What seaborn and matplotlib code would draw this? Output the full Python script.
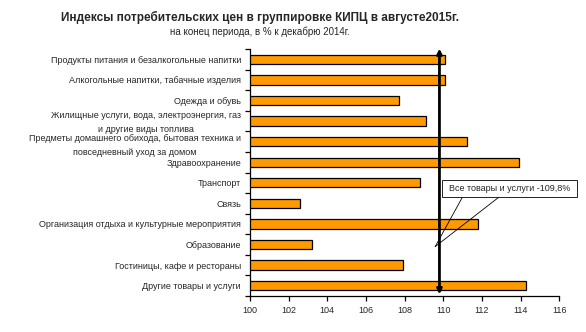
import matplotlib
matplotlib.use("Agg")
import matplotlib.pyplot as plt
from matplotlib.patches import Rectangle
from matplotlib.ticker import FixedLocator
from matplotlib.transforms import ScaledTranslation
import pandas as pd
import seaborn as sns

categories = [
    "Продукты питания и безалкогольные напитки",
    "Алкогольные напитки, табачные изделия",
    "Одежда и обувь",
    "Жилищные услуги, вода, электроэнергия, газ\nи другие виды топлива",
    "Предметы домашнего обихода, бытовая техника и\nповседневный уход за домом",
    "Здравоохранение",
    "Транспорт",
    "Связь",
    "Организация отдыха и культурные мероприятия",
    "Образование",
    "Гостиницы, кафе и рестораны",
    "Другие товары и услуги",
]
values = [110.1, 110.1, 107.7, 109.1, 111.2, 113.9, 108.8, 102.6, 111.8, 103.2, 107.9, 114.3]
total_value = 109.8
total_label = "Все товары и услуги -109,8%"
x_ticks = [100, 102, 104, 106, 108, 110, 112, 114, 116]

title = "Индексы потребительских цен в группировке КИПЦ в августе2015г."
subtitle = "на конец периода, в % к декабрю 2014г."

sns.set_style("white")
plt.rcParams["font.family"] = ["Liberation Sans", "DejaVu Sans"]

df = pd.DataFrame({"category": categories, "value": values})

fig = plt.figure(figsize=(5.86, 3.32), dpi=100)
ax = fig.add_axes([250 / 586, 36 / 332, 309.3 / 586, 247 / 332])

sns.barplot(data=df, x="value", y="category", orient="h", color="#FF9900",
            saturation=1, edgecolor="black", linewidth=0.9, width=0.45, ax=ax)

ax.set_xlim(x_ticks[0], x_ticks[-1])
ax.set_ylim(len(categories) - 0.5, -0.5)
ax.set_xticks(x_ticks)
ax.set_xticklabels([str(t) for t in x_ticks], fontsize=6.5)
ax.set_xlabel("")
ax.set_ylabel("")

# category labels centred on bars, tick marks on the boundaries between them
ax.tick_params(axis="y", which="major", length=0, pad=6.5, labelsize=6.5)
for lbl in ax.get_yticklabels():
    lbl.set_multialignment("center")
    lbl.set_linespacing(1.7)
    if "\n" in lbl.get_text():
        # nudge the two-line labels apart so they do not touch
        shift = 1.6 if lbl.get_text().startswith("Жилищные") else -0.6
        lbl.set_transform(lbl.get_transform() + ScaledTranslation(0, shift / 72, fig.dpi_scale_trans))
ax.yaxis.set_minor_locator(FixedLocator([i - 0.5 for i in range(len(categories) + 1)]))
ax.tick_params(axis="y", which="minor", length=3.5, width=0.9, direction="out", left=True, color="black")
ax.tick_params(axis="x", which="major", length=3.5, width=0.9, direction="out", bottom=True,
               color="black", pad=3.5)

for side in ("top", "right"):
    ax.spines[side].set_visible(False)
for side in ("left", "bottom"):
    ax.spines[side].set_color("black")
    ax.spines[side].set_linewidth(0.9)

# callout: two thin pointer lines and a white box with the overall index
bx0, bx1 = total_value + 0.12, total_value + 7.1
by0, by1 = 5.85, 6.68
tip = (total_value - 0.22, 9.1)
for base_x in (total_value + 1.2, total_value + 3.1):
    ax.plot([base_x, tip[0]], [by1, tip[1]], color="black", lw=0.6,
            clip_on=False, zorder=4)
ax.add_patch(Rectangle((bx0, by0), bx1 - bx0, by1 - by0, facecolor="white",
                       edgecolor="black", linewidth=0.6, clip_on=False, zorder=5))
ax.text((bx0 + bx1) / 2, (by0 + by1) / 2, total_label, ha="center", va="center",
        fontsize=6.5, zorder=6, clip_on=False)

# overall index line with arrowheads at both ends
ax.annotate("", xy=(total_value, -0.52), xytext=(total_value, len(categories) - 0.58),
            arrowprops=dict(arrowstyle="<|-|>", color="black", lw=2.0,
                            mutation_scale=7, shrinkA=0, shrinkB=0), zorder=7)

fig.text(0.444, 0.948, title, ha="center", va="center", fontsize=8.5, fontweight="bold")
fig.text(0.444, 0.903, subtitle, ha="center", va="center", fontsize=7)

fig.savefig("out.png", dpi=100, facecolor="white")
